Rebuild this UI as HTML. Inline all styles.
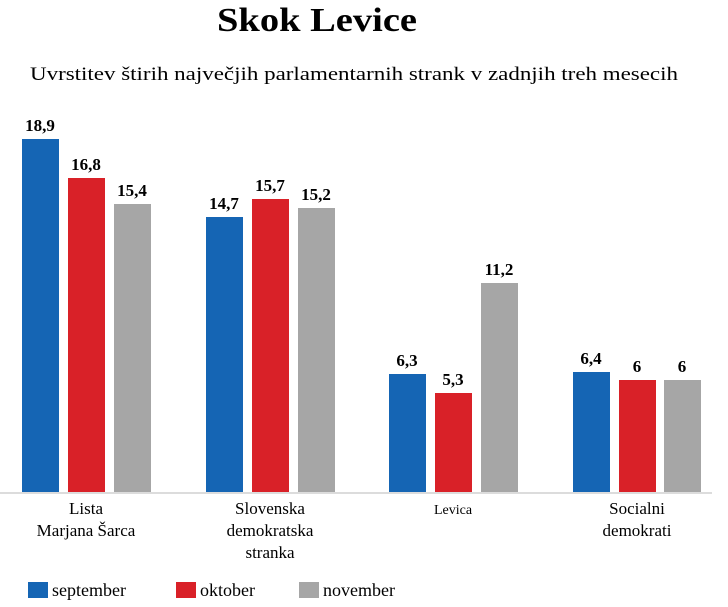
<!DOCTYPE html>
<html><head><meta charset="utf-8"><style>body{margin:0;background:#fff}svg{display:block}</style></head>
<body>
<svg width="728" height="607" xmlns="http://www.w3.org/2000/svg" font-family="Liberation Serif, serif">
<text x="317" y="31" text-anchor="middle" font-size="34" font-weight="bold" textLength="200" lengthAdjust="spacingAndGlyphs">Skok Levice</text>
<text x="30" y="80" font-size="19" textLength="648" lengthAdjust="spacingAndGlyphs">Uvrstitev štirih največjih parlamentarnih strank v zadnjih treh mesecih</text>
<line x1="0" y1="493" x2="712" y2="493" stroke="#d0d0d0" stroke-width="1.5"/>
<g>
<rect x="22" y="139" width="37" height="353" fill="#1565b4"/>
<rect x="68" y="178" width="37" height="314" fill="#d92128"/>
<rect x="114" y="204" width="37" height="288" fill="#a6a6a6"/>
<rect x="206" y="217" width="37" height="275" fill="#1565b4"/>
<rect x="252" y="199" width="37" height="293" fill="#d92128"/>
<rect x="298" y="208" width="37" height="284" fill="#a6a6a6"/>
<rect x="389" y="374" width="37" height="118" fill="#1565b4"/>
<rect x="435" y="393" width="37" height="99" fill="#d92128"/>
<rect x="481" y="283" width="37" height="209" fill="#a6a6a6"/>
<rect x="573" y="372" width="37" height="120" fill="#1565b4"/>
<rect x="619" y="380" width="37" height="112" fill="#d92128"/>
<rect x="664" y="380" width="37" height="112" fill="#a6a6a6"/>
</g>
<g font-size="17" font-weight="bold" text-anchor="middle">
<text x="40" y="131">18,9</text><text x="86" y="170">16,8</text><text x="132" y="196">15,4</text>
<text x="224" y="209">14,7</text><text x="270" y="191">15,7</text><text x="316" y="200">15,2</text>
<text x="407" y="366">6,3</text><text x="453" y="385">5,3</text><text x="499" y="275">11,2</text>
<text x="591" y="364">6,4</text><text x="637" y="372">6</text><text x="682" y="372">6</text>
</g>
<g font-size="17" text-anchor="middle">
<text x="86" y="514">Lista</text><text x="86" y="536">Marjana Šarca</text>
<text x="270" y="514">Slovenska</text><text x="270" y="536">demokratska</text><text x="270" y="558">stranka</text>
<text x="453" y="514" font-size="14">Levica</text>
<text x="637" y="514">Socialni</text><text x="637" y="536">demokrati</text>
</g>
<rect x="28" y="582" width="20" height="16" fill="#1565b4"/>
<rect x="176" y="582" width="20" height="16" fill="#d92128"/>
<rect x="299" y="582" width="20" height="16" fill="#a6a6a6"/>
<g font-size="18">
<text x="52" y="596">september</text><text x="200" y="596">oktober</text><text x="323" y="596">november</text>
</g>
</svg>
</body></html>
